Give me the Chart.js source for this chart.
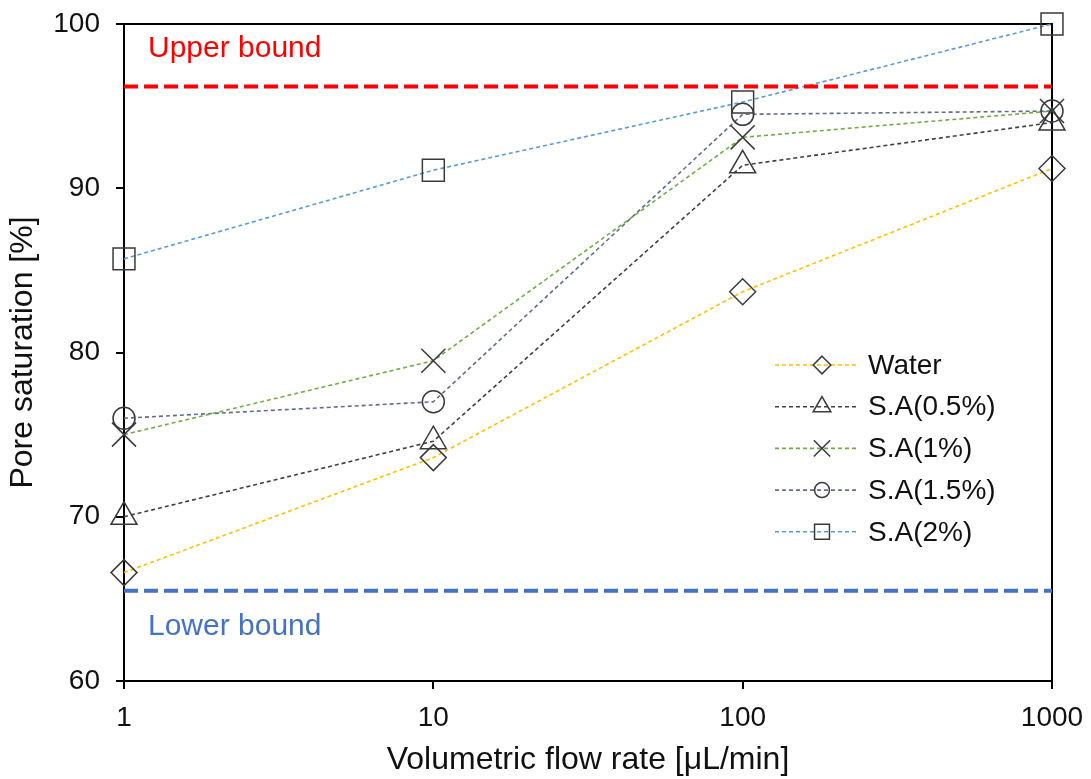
<!DOCTYPE html>
<html>
<head>
<meta charset="utf-8">
<script src="https://cdn.jsdelivr.net/npm/chart.js@4/dist/chart.umd.min.js"></script>
<style>
  html, body { margin: 0; padding: 0; background: #fff; }
  #wrap { width: 1091px; height: 779px; position: relative; }
</style>
</head>
<body>
<div id="wrap"><canvas id="c"></canvas></div>
<script>
// ---- data ----
const flowRates = [1, 10, 100, 1000];
const xTickValues = [1, 10, 100, 1000];
const seriesNames = ['Water', 'S.A(0.5%)', 'S.A(1%)', 'S.A(1.5%)', 'S.A(2%)'];
const water   = [66.6, 73.6, 83.7, 91.2];
const sa05    = [70.0, 74.6, 91.4, 94.0];
const sa1     = [75.0, 79.5, 93.1, 94.7];
const sa15    = [76.0, 77.0, 94.5, 94.7];
const sa2     = [85.7, 91.1, 95.25, 100.0];
const upperBound = 96.2;
const lowerBound = 65.5;
const boundLabels = ['Upper bound', 'Lower bound'];
const boundLabelY = [98.5, 63.3];

// ---- styles ----
const FONT = "'Liberation Sans', Arial, sans-serif";
const lineColors = ['#FFC000', '#404040', '#70AD47', '#5F6F88', '#5B9BD5'];
const markerStyles = ['rectRot', 'triangle', 'crossRot', 'circle', 'rect'];
const markerRadii = [13, 15, 17, 11, 15.5];
const markerColor = '#3a3a3a';
const allSeries = [water, sa05, sa1, sa15, sa2];

const datasets = allSeries.map((arr, i) => ({
  label: seriesNames[i],
  data: flowRates.map((x, j) => ({ x: x, y: arr[j] })),
  borderColor: lineColors[i],
  borderWidth: 1.6,
  borderDash: [4, 3],
  pointStyle: markerStyles[i],
  pointRadius: markerRadii[i],
  pointBorderColor: markerColor,
  pointBackgroundColor: 'rgba(0,0,0,0)',
  pointBorderWidth: 1.5,
  tension: 0,
  clip: false
}));

datasets.unshift({
  label: 'Upper bound',
  data: [{ x: flowRates[0], y: upperBound }, { x: flowRates[flowRates.length - 1], y: upperBound }],
  borderColor: '#FF0000', borderWidth: 4, borderDash: [14, 6], pointRadius: 0, clip: false
}, {
  label: 'Lower bound',
  data: [{ x: flowRates[0], y: lowerBound }, { x: flowRates[flowRates.length - 1], y: lowerBound }],
  borderColor: '#4472C4', borderWidth: 4, borderDash: [14, 6], pointRadius: 0, clip: false
});

function drawMarker(ctx, style, x, y, r) {
  ctx.beginPath();
  if (style === 'rectRot') {
    ctx.moveTo(x, y - r); ctx.lineTo(x + r, y); ctx.lineTo(x, y + r); ctx.lineTo(x - r, y); ctx.closePath();
  } else if (style === 'triangle') {
    const h = r * Math.sqrt(3) / 2;
    ctx.moveTo(x, y - r); ctx.lineTo(x + h, y + r / 2); ctx.lineTo(x - h, y + r / 2); ctx.closePath();
  } else if (style === 'crossRot') {
    const o = r * Math.SQRT1_2;
    ctx.moveTo(x - o, y - o); ctx.lineTo(x + o, y + o);
    ctx.moveTo(x + o, y - o); ctx.lineTo(x - o, y + o);
  } else if (style === 'circle') {
    ctx.arc(x, y, r, 0, Math.PI * 2);
  } else if (style === 'rect') {
    const s = r * Math.SQRT1_2;
    ctx.rect(x - s, y - s, 2 * s, 2 * s);
  }
  ctx.stroke();
}

const framePlugin = {
  id: 'frame',
  beforeDatasetsDraw(chart) {
    const { ctx, chartArea: a } = chart;
    ctx.save();
    ctx.strokeStyle = '#000';
    ctx.lineWidth = 2;
    ctx.beginPath();
    ctx.moveTo(a.left, a.top);
    ctx.lineTo(a.right, a.top);
    ctx.lineTo(a.right, a.bottom);
    ctx.stroke();
    ctx.restore();
  },
  afterDraw(chart) {
    const { ctx, chartArea: a, scales } = chart;
    ctx.save();
    // bound labels
    ctx.font = '30px ' + FONT;
    ctx.textBaseline = 'middle';
    ctx.textAlign = 'left';
    ctx.fillStyle = '#FF0000';
    ctx.fillText(boundLabels[0], a.left + 24, scales.y.getPixelForValue(boundLabelY[0]));
    ctx.fillStyle = '#4472C4';
    ctx.fillText(boundLabels[1], a.left + 24, scales.y.getPixelForValue(boundLabelY[1]));

    // legend
    const lx0 = a.right - 277, lx1 = a.right - 195, mx = a.right - 230, tx = a.right - 184;
    const ly0 = a.top + 341, dy = 41.7;
    ctx.font = '28px ' + FONT;
    for (let i = 0; i < seriesNames.length; i++) {
      const y = ly0 + i * dy;
      ctx.strokeStyle = lineColors[i];
      ctx.lineWidth = 1.6;
      ctx.setLineDash([4, 3]);
      ctx.beginPath(); ctx.moveTo(lx0, y); ctx.lineTo(lx1, y); ctx.stroke();
      ctx.setLineDash([]);
      ctx.strokeStyle = markerColor;
      ctx.lineWidth = 1.5;
      drawMarker(ctx, markerStyles[i], mx, y, markerRadii[i] * 0.68);
      ctx.fillStyle = '#111';
      ctx.fillText(seriesNames[i], tx, y + 1);
    }
    ctx.restore();
  }
};

new Chart(document.getElementById('c'), {
  type: 'line',
  data: { datasets: datasets },
  plugins: [framePlugin],
  options: {
    responsive: true,
    maintainAspectRatio: false,
    animation: false,
    layout: { padding: { top: 24, right: 39, left: 0, bottom: 0 } },
    plugins: { legend: { display: false }, tooltip: { enabled: false } },
    scales: {
      x: {
        type: 'logarithmic',
        position: 'bottom',
        min: 1, max: 1000,
        afterBuildTicks(s) { s.ticks = xTickValues.map(v => ({ value: v })); },
        afterFit(s) { s.height = 98; s.paddingLeft = 0; s.paddingRight = 0; },
        ticks: {
          callback: v => String(v),
          font: { size: 28, family: FONT },
          color: '#111',
          padding: 12,
          maxRotation: 0,
          autoSkip: false
        },
        grid: { display: true, drawOnChartArea: false, drawTicks: true, tickLength: 8, color: '#000', lineWidth: 2 },
        border: { display: true, color: '#000', width: 2 },
        title: { display: true, text: 'Volumetric flow rate [μL/min]', font: { size: 32, family: FONT }, color: '#111', padding: { top: 0, bottom: 0 } }
      },
      y: {
        min: 60, max: 100,
        afterFit(s) { s.width = 124; s.paddingTop = 0; s.paddingBottom = 0; },
        ticks: {
          stepSize: 10,
          font: { size: 28, family: FONT },
          color: '#111',
          padding: 16
        },
        grid: { display: true, drawOnChartArea: false, drawTicks: true, tickLength: 8, color: '#000', lineWidth: 2 },
        border: { display: true, color: '#000', width: 2 },
        title: { display: true, text: 'Pore saturation [%]', font: { size: 32, family: FONT }, color: '#111', padding: { top: 4, bottom: 0 } }
      }
    }
  }
});
</script>
</body>
</html>
